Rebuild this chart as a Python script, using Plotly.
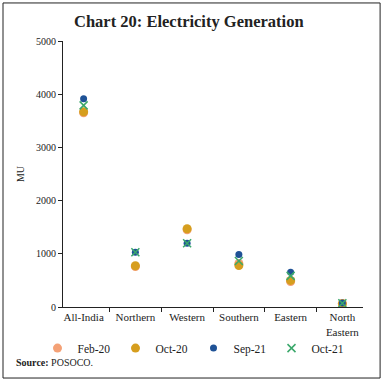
import plotly.graph_objects as go

categories = ["All-India", "Northern", "Western", "Southern", "Eastern", "North<br>Eastern"]
feb20 = [3650, 760, 1450, 820, 480, 65]
oct20 = [3670, 775, 1470, 780, 500, 60]
sep21 = [3915, 1030, 1200, 985, 655, 75]
oct21 = [3790, 1030, 1200, 865, 585, 70]

series = [
    ("Feb-20", feb20, "circle", "#F4A176", 9),
    ("Oct-20", oct20, "circle", "#D69E1E", 9),
    ("Sep-21", sep21, "circle", "#1F5296", 7),
    ("Oct-21", oct21, "x-thin", "#3BA86B", 8),
]

font = "Liberation Serif"
fig = go.Figure()
for name, vals, sym, col, size in series:
    marker = dict(symbol=sym, color=col, size=size)
    if sym == "x-thin":
        marker["line"] = dict(color=col, width=1.5)
    fig.add_trace(go.Scatter(x=categories, y=vals, mode="markers", name=name, marker=marker))

fig.update_layout(
    width=384, height=381,
    margin=dict(l=63, r=21, t=41, b=74),
    paper_bgcolor="white", plot_bgcolor="white",
    font=dict(family=font, size=10, color="#222"),
    showlegend=True,
    legend=dict(orientation="h", x=-0.085, y=-0.1, xanchor="left", yanchor="top",
                entrywidth=33, entrywidthmode="pixels", itemwidth=30,
                bgcolor="rgba(0,0,0,0)",
                font=dict(size=11.5), tracegroupgap=0),
    xaxis=dict(showline=True, linecolor="#222", linewidth=1, ticks="outside",
               tickson="boundaries", ticklen=4, tickcolor="#222", showgrid=False,
               tickfont=dict(size=11)),
    yaxis=dict(range=[0, 5000], dtick=1000, showline=True, linecolor="#222", linewidth=1,
               ticks="outside", ticklen=4, tickcolor="#222", showgrid=False, zeroline=False,
               title=dict(text="MU", font=dict(size=10), standoff=9), tickfont=dict(size=10)),
    annotations=[
        dict(text="<b>Chart 20: Electricity Generation</b>", xref="paper", yref="paper",
             x=0.42, y=1.075, xanchor="center", yanchor="middle", showarrow=False,
             font=dict(size=16.5, family=font, color="#222")),
        dict(text="<b>Source:</b> POSOCO.", xref="paper", yref="paper",
             x=-0.165, y=-0.21, xanchor="left", yanchor="middle", showarrow=False,
             font=dict(size=10, family=font, color="#222")),
    ],
    shapes=[dict(type="rect", xref="paper", yref="paper", x0=-0.2, x1=1.057, y0=-0.267, y1=1.143,
                 line=dict(color="#222", width=1))],
)
fig.write_html("out.html", config={"displayModeBar": False},
               post_script="document.body.style.margin='0';")
